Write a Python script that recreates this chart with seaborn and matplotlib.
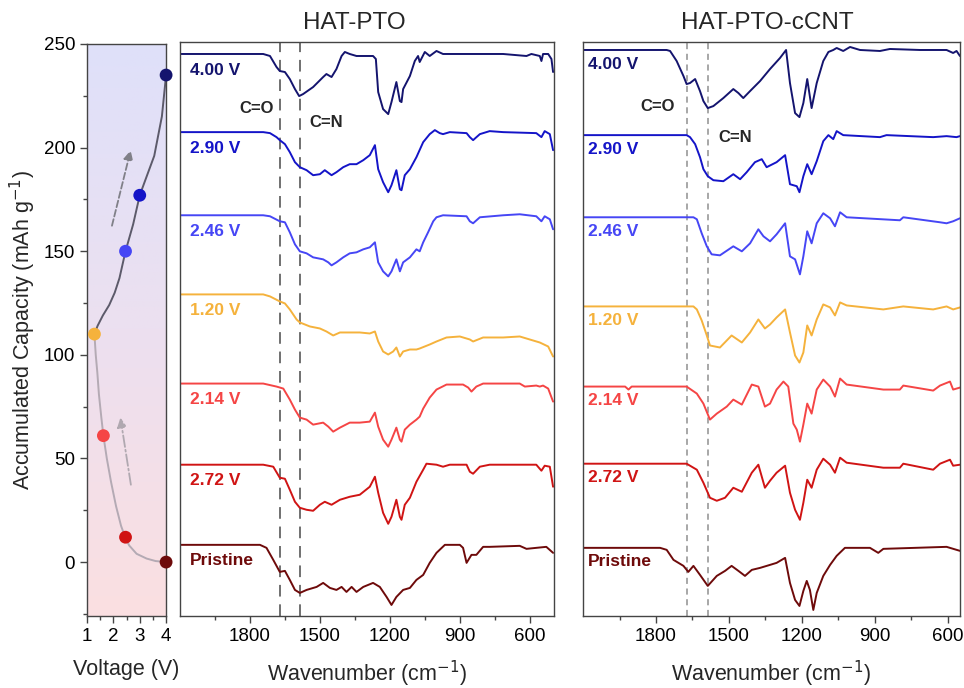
import numpy as np
import matplotlib
matplotlib.use("Agg")
import matplotlib.pyplot as plt
from matplotlib.colors import LinearSegmentedColormap
import seaborn as sns

# ---- data ----
labels = ['4.00 V', '2.90 V', '2.46 V', '1.20 V', '2.14 V', '2.72 V', 'Pristine']
colors = ['#14146e', '#1414c8', '#4646f5', '#f5b23c', '#f54545', '#d01414', '#6e0a0a']

# left panel: voltage / accumulated capacity
point_v = [4.0, 3.0, 2.46, 1.28, 1.62, 2.46, 4.0]
point_cap = [235, 177, 150, 110, 61, 12, 0]
charge_v = [1.28, 1.40, 1.60, 1.84, 2.05, 2.23, 2.46, 2.75, 3.0, 3.26, 3.55, 3.84, 4.0]
charge_cap = [110, 114, 119, 124, 130, 137, 150, 163, 177, 186, 196, 215, 235]
dis_v = [4.0, 3.6, 3.26, 2.88, 2.6, 2.46, 2.29, 2.1, 1.91, 1.75, 1.62, 1.54, 1.45, 1.39, 1.33, 1.28]
dis_cap = [0, 0.5, 1.7, 4, 8, 11.6, 17.5, 27, 38.7, 50, 61, 70, 81, 91.5, 100, 110]

# HAT-PTO spectra (relative transmittance, px units)
pto_400_wn = [2100, 1743, 1714, 1686, 1672, 1650, 1629, 1607, 1589, 1572, 1529, 1486, 1472, 1450, 1429, 1407,
              1393, 1372, 1343, 1272, 1260, 1250, 1229, 1207, 1193, 1172, 1157, 1150, 1143, 1114, 1093, 1079,
              1072, 1050, 1029, 1000, 972, 714, 614, 593, 557, 550, 543, 521, 507, 500]
pto_400_val = [0, 0, -2, -13, -17, -18, -25, -35, -42, -40, -33, -23, -20, -23, -15, -2,
               2, 0, -2, -2, -5, -38, -55, -60, -48, -28, -47, -48, -35, -22, -7, -2,
               -8, 2, -2, 3, 0, 0, -2, 0, -2, -7, 0, 0, -5, -18]
pto_290_wn = [2100, 1743, 1714, 1686, 1672, 1650, 1629, 1607, 1586, 1557, 1529, 1500, 1479, 1450, 1429, 1400,
              1372, 1343, 1314, 1286, 1264, 1250, 1229, 1207, 1193, 1172, 1157, 1150, 1136, 1114, 1086, 1057,
              1029, 1007, 986, 972, 943, 871, 857, 843, 814, 772, 714, 572, 550, 536, 514, 500]
pto_290_val = [0, 0, -1, -5, -8, -12, -20, -30, -35, -38, -43, -42, -38, -43, -40, -35,
               -32, -32, -28, -23, -13, -37, -50, -60, -53, -38, -57, -58, -43, -37, -25, -10,
               -2, 2, -1, -2, 0, -1, -5, -8, -2, 1, 0, -1, -5, 1, -2, -18]
pto_246_wn = [2100, 1743, 1714, 1672, 1650, 1629, 1607, 1586, 1557, 1529, 1486, 1464, 1450, 1429, 1400, 1372,
              1343, 1314, 1286, 1264, 1250, 1229, 1207, 1193, 1172, 1157, 1143, 1114, 1086, 1072, 1057, 1036,
              1014, 1000, 972, 871, 857, 843, 814, 714, 643, 572, 550, 536, 514, 500]
pto_246_val = [0, 0, -1, -6, -7, -17, -29, -36, -38, -42, -44, -47, -50, -47, -42, -38,
               -37, -34, -32, -27, -47, -56, -61, -56, -44, -56, -47, -42, -34, -36, -27, -17,
               -6, -2, 0, -1, -6, -8, -2, 0, 1, -1, -6, -1, -4, -14]
pto_120_wn = [2100, 1743, 1714, 1672, 1650, 1629, 1600, 1586, 1543, 1500, 1472, 1443, 1414, 1372, 1329, 1286,
              1264, 1250, 1229, 1207, 1186, 1172, 1157, 1143, 1114, 1086, 1072, 1029, 1000, 957, 900, 857,
              843, 800, 714, 643, 600, 557, 521, 500]
pto_120_val = [0, 0, -2, -7, -9, -15, -25, -28, -32, -34, -37, -41, -38, -38, -38, -39,
               -37, -47, -57, -60, -57, -53, -62, -57, -55, -55, -54, -50, -47, -43, -42, -45,
               -47, -43, -43, -42, -45, -48, -52, -62]
pto_214_wn = [2100, 1743, 1686, 1657, 1629, 1607, 1586, 1557, 1529, 1486, 1464, 1443, 1414, 1372, 1329, 1286,
              1264, 1250, 1229, 1207, 1193, 1172, 1157, 1150, 1136, 1114, 1086, 1072, 1057, 1029, 1000, 957,
              886, 864, 850, 829, 800, 643, 621, 572, 557, 543, 521, 500]
pto_214_val = [0, 0, -3, -5, -16, -26, -34, -36, -41, -39, -43, -48, -44, -39, -39, -38,
               -29, -43, -56, -63, -56, -44, -56, -58, -46, -41, -36, -33, -25, -14, -6, -1,
               -1, -4, -8, -3, 0, 0, -3, -2, -3, -2, -5, -18]
pto_272_wn = [2100, 1743, 1700, 1672, 1650, 1629, 1607, 1586, 1557, 1529, 1500, 1479, 1450, 1414, 1372, 1329,
              1286, 1264, 1250, 1229, 1207, 1193, 1172, 1157, 1150, 1136, 1114, 1086, 1057, 1043, 1000, 972,
              943, 871, 857, 843, 814, 772, 572, 550, 536, 514, 500]
pto_272_val = [0, 0, -2, -13, -14, -25, -37, -43, -45, -46, -40, -37, -40, -35, -32, -30,
               -22, -12, -28, -48, -59, -52, -35, -52, -55, -40, -33, -17, -5, 1, 0, -2,
               0, 0, -7, -9, -2, 0, 0, -6, -1, -2, -22]
pto_pri_wn = [2100, 1757, 1729, 1700, 1672, 1650, 1629, 1607, 1586, 1557, 1514, 1486, 1457, 1429, 1407, 1386,
              1364, 1343, 1314, 1272, 1243, 1214, 1193, 1172, 1143, 1114, 1086, 1057, 1029, 1000, 964, 900,
              886, 871, 850, 829, 800, 772, 643, 614, 572, 529, 500]
pto_pri_val = [0, 0, -3, -15, -27, -26, -35, -45, -48, -45, -42, -38, -43, -45, -42, -47,
               -42, -47, -42, -38, -42, -52, -60, -52, -45, -43, -35, -30, -18, -8, 0, 0,
               -3, -18, -10, -10, -2, -2, -1, -4, -3, -2, -8]

# HAT-PTO-cCNT spectra
cnt_400_wn = [2101, 1756, 1742, 1715, 1687, 1674, 1660, 1639, 1619, 1605, 1587, 1564, 1523, 1482, 1461, 1441,
              1413, 1372, 1331, 1290, 1265, 1249, 1228, 1210, 1194, 1178, 1160, 1139, 1112, 1091, 1071, 1057,
              1030, 1002, 961, 879, 838, 715, 605, 578, 564, 550]
cnt_400_val = [0, 0, -1, -11, -26, -34, -33, -29, -41, -51, -58, -56, -48, -39, -43, -48,
               -41, -31, -19, -8, 0, -33, -63, -67, -53, -29, -58, -33, -11, -2, 0, 2,
               -1, 3, 0, -1, 1, 0, 0, -3, -1, -6]
cnt_290_wn = [2101, 1674, 1660, 1639, 1619, 1605, 1587, 1564, 1523, 1482, 1454, 1427, 1393, 1365, 1345, 1304,
              1269, 1249, 1221, 1210, 1194, 1178, 1160, 1139, 1112, 1091, 1071, 1057, 1030, 879, 852, 660,
              605, 564, 550]
cnt_290_val = [0, 0, -2, -9, -22, -34, -41, -45, -46, -39, -44, -37, -27, -24, -32, -27,
               -20, -49, -51, -57, -41, -29, -39, -26, -6, 0, -4, 4, 0, -2, 0, -2,
               -1, -2, -1]
cnt_246_wn = [2101, 1646, 1632, 1612, 1591, 1571, 1537, 1482, 1447, 1413, 1379, 1358, 1331, 1304, 1269, 1249,
              1228, 1208, 1194, 1178, 1160, 1139, 1112, 1084, 1064, 1043, 1016, 797, 783, 632, 605, 578, 550]
cnt_246_val = [0, 0, -2, -16, -29, -37, -38, -29, -34, -26, -12, -19, -24, -17, -6, -39,
               -42, -57, -39, -14, -26, -6, 4, -1, -9, 5, 0, -3, 0, -5, -6, -4, -1]
cnt_120_wn = [2101, 1646, 1632, 1612, 1591, 1578, 1537, 1489, 1447, 1413, 1379, 1352, 1331, 1304, 1269, 1249,
              1228, 1210, 1194, 1178, 1160, 1139, 1112, 1084, 1064, 1043, 1016, 865, 783, 660, 605, 578, 550]
cnt_120_val = [0, 0, -3, -14, -29, -39, -41, -29, -36, -26, -13, -22, -18, -11, -3, -26,
               -49, -56, -46, -19, -29, -13, 2, -1, -9, 4, 1, -3, 0, -3, 0, -3, -1]
cnt_214_wn = [2101, 1927, 1913, 1900, 1674, 1632, 1605, 1578, 1550, 1509, 1482, 1447, 1406, 1379, 1352, 1331,
              1304, 1276, 1256, 1235, 1221, 1208, 1194, 1178, 1160, 1139, 1112, 1084, 1064, 1043, 1016, 865,
              797, 783, 660, 632, 591, 578, 550]
cnt_214_val = [0, 0, -3, 0, 0, -7, -17, -33, -27, -20, -13, -18, 2, 0, -20, -17,
               -3, 5, 0, -37, -43, -55, -38, -17, -27, -3, 7, 0, -10, 8, 2, -3,
               -3, 1, -4, 1, 5, -3, -1]
cnt_272_wn = [2101, 1674, 1660, 1632, 1605, 1578, 1550, 1516, 1482, 1447, 1406, 1379, 1352, 1331, 1304, 1269,
              1249, 1228, 1208, 1194, 1178, 1160, 1139, 1112, 1084, 1064, 1043, 1016, 865, 797, 783, 660,
              632, 591, 578, 550]
cnt_272_val = [0, 0, -2, -6, -19, -34, -37, -34, -24, -28, -9, -1, -24, -17, -9, -2,
               -29, -46, -56, -39, -16, -24, -6, 5, -1, -9, 6, 1, -4, -4, 0, -6,
               0, 4, -2, -1]
cnt_pri_wn = [2101, 1783, 1756, 1728, 1687, 1667, 1646, 1619, 1587, 1550, 1516, 1489, 1461, 1434, 1406, 1372,
              1331, 1304, 1269, 1249, 1228, 1210, 1194, 1180, 1167, 1153, 1139, 1112, 1084, 1057, 1023, 920,
              886, 865, 605, 550]
cnt_pri_val = [0, 0, -2, -12, -18, -24, -18, -27, -38, -28, -23, -18, -23, -28, -22, -20,
               -17, -15, -10, -35, -52, -58, -43, -33, -42, -62, -45, -28, -17, -8, 0, 0,
               -5, -1, 1, -3]

pto_offsets = [561, 483, 400, 321, 232, 151, 71]
cnt_offsets = [565, 480, 398, 309, 229, 152, 68]
peak_co, peak_cn = 1672, 1587

pto_spectra = [(pto_400_wn, pto_400_val), (pto_290_wn, pto_290_val), (pto_246_wn, pto_246_val),
               (pto_120_wn, pto_120_val), (pto_214_wn, pto_214_val), (pto_272_wn, pto_272_val),
               (pto_pri_wn, pto_pri_val)]
cnt_spectra = [(cnt_400_wn, cnt_400_val), (cnt_290_wn, cnt_290_val), (cnt_246_wn, cnt_246_val),
               (cnt_120_wn, cnt_120_val), (cnt_214_wn, cnt_214_val), (cnt_272_wn, cnt_272_val),
               (cnt_pri_wn, cnt_pri_val)]

sns.set_style("ticks")
plt.rcParams['font.family'] = ['Liberation Sans', 'DejaVu Sans']
plt.rcParams['axes.edgecolor'] = '#444444'
plt.rcParams['xtick.color'] = '#444444'
plt.rcParams['ytick.color'] = '#444444'
plt.rcParams['xtick.labelcolor'] = 'black'
plt.rcParams['ytick.labelcolor'] = 'black'

fig = plt.figure(figsize=(9.64, 6.88), dpi=100)
ax0 = fig.add_axes([0.0903, 0.1047, 0.0820, 0.8314])
ax1 = fig.add_axes([0.1867, 0.1047, 0.3880, 0.8343])
ax2 = fig.add_axes([0.6048, 0.1047, 0.3910, 0.8343])

# ---- left panel ----
grad = LinearSegmentedColormap.from_list('bg', ['#dfe0fa', '#ece0f0', '#fbdfe1'])
ax0.imshow(np.linspace(0, 1, 256).reshape(-1, 1), extent=[1, 4, -26, 250], aspect='auto',
           cmap=grad, origin='upper', zorder=0)
sns.lineplot(x=dis_v, y=dis_cap, ax=ax0, color='#b4aab4', lw=1.4, sort=False, estimator=None, zorder=2)
sns.lineplot(x=charge_v, y=charge_cap, ax=ax0, color='#5c5a6a', lw=1.4, sort=False, estimator=None, zorder=2)
sns.scatterplot(x=point_v, y=point_cap, hue=labels, palette=dict(zip(labels, colors)), ax=ax0,
                s=85, edgecolor='none', legend=False, zorder=3, clip_on=False)
ax0.annotate('', xy=(2.68, 200), xytext=(1.92, 161),
             arrowprops=dict(arrowstyle='-|>', ls='--', color='#808088', lw=1.3, mutation_scale=14))
ax0.annotate('', xy=(2.25, 71), xytext=(2.68, 36),
             arrowprops=dict(arrowstyle='-|>', ls='-.', color='#b0a8b0', lw=1.3, mutation_scale=14))
ax0.set_xlim(1, 4)
ax0.set_ylim(-26, 250)
ax0.set_xticks([1, 2, 3, 4])
ax0.set_xticks([1.5, 2.5, 3.5], minor=True)
ax0.set_yticks([0, 50, 100, 150, 200, 250])
ax0.set_yticks([-25, 25, 75, 125, 175, 225], minor=True)
ax0.tick_params(labelsize=13.5, length=5, width=1)
ax0.tick_params(which='minor', length=3, width=1)
ax0.set_xlabel('Voltage (V)', fontsize=15.5, labelpad=10)
ax0.set_ylabel('Accumulated Capacity (mAh g$^{-1}$)', fontsize=15.5, labelpad=4)

# ---- spectra panels ----
def draw_panel(ax, spectra, offsets, title, title_x, xmax_right, lab_x, lab_dy, ann, dash, dash_color, dash_lw):
    for (wn, val), off, lab, col in zip(spectra, offsets, labels, colors):
        sns.lineplot(x=wn, y=np.asarray(val) + off, ax=ax, color=col, lw=1.4,
                     sort=False, estimator=None)
        ax.text(lab_x, off - lab_dy, lab, color=col, fontsize=12.5, fontweight='bold',
                ha='left', va='center')
    for pk in (peak_co, peak_cn):
        ax.axvline(pk, color=dash_color, ls=dash, lw=dash_lw, zorder=1)
    (cox, coy), (cnx, cny) = ann
    ax.text(cox, coy, 'C=O', fontsize=12, fontweight='bold', ha='center', va='center')
    ax.text(cnx, cny, 'C=N', fontsize=12, fontweight='bold', ha='center', va='center')
    ax.set_xlim(2100, xmax_right)
    ax.set_ylim(0, 573)
    ax.set_xticks([1800, 1500, 1200, 900, 600])
    ax.set_xticks([1950, 1650, 1350, 1050, 750], minor=True)
    ax.set_yticks([])
    ax.tick_params(labelsize=13.5, length=5, width=1)
    ax.tick_params(which='minor', length=3, width=1)
    ax.set_xlabel('Wavenumber (cm$^{-1}$)', fontsize=15.5, labelpad=10)
    ax.set_ylabel('')
    ax.set_title(title, fontsize=17.5, pad=9, x=title_x)

draw_panel(ax1, pto_spectra, pto_offsets, 'HAT-PTO', 0.465, 496, 2057, 16,
           ((1770, 507), (1474, 493)), (0, (6, 4)), '#707070', 1.4)
draw_panel(ax2, cnt_spectra, cnt_offsets, 'HAT-PTO-cCNT', 0.49, 550, 2080, 14,
           ((1792, 509), (1475, 478)), (0, (4, 3)), '#909090', 1.1)

for ax in (ax0, ax1, ax2):
    for sp in ax.spines.values():
        sp.set_visible(True)
        sp.set_linewidth(1.0)

fig.savefig('out.png', dpi=100)
